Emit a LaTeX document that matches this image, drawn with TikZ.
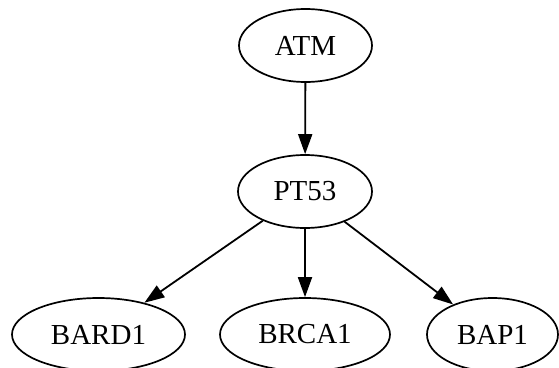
\documentclass[tikz,border=0pt]{standalone}
\usepackage{fontspec}
\setmainfont{Liberation Serif}
\usetikzlibrary{shapes.geometric,arrows.meta}
\begin{document}
\begin{tikzpicture}[x=1pt,y=-1pt,
  gene/.style={ellipse,draw,line width=1.7pt,inner sep=0pt,
    minimum height=73pt,font=\fontsize{29}{31}\selectfont},
  link/.style={line width=1.8pt,-{Triangle[length=20pt,width=14pt]}}]
\useasboundingbox (0,0) rectangle (559,367);
\clip (0,0) rectangle (559,367);
\node[gene,minimum width=133pt] (atm) at (305.5,45.5) {ATM};
\node[gene,minimum width=134pt] (pt53) at (305,191.5) {PT53};
\node[gene,minimum width=173pt] (bard1) at (98.5,334.5) {BARD1};
\node[gene,minimum width=170pt] (brca1) at (305,334.5) {BRCA1};
\node[gene,minimum width=131pt] (bap1) at (492.5,334.5) {BAP1};
\draw[link] (atm) -- (pt53);
\draw[link] (pt53) -- (bard1);
\draw[link] (pt53) -- (brca1);
\draw[link] (pt53) -- (bap1);
\end{tikzpicture}
\end{document}
